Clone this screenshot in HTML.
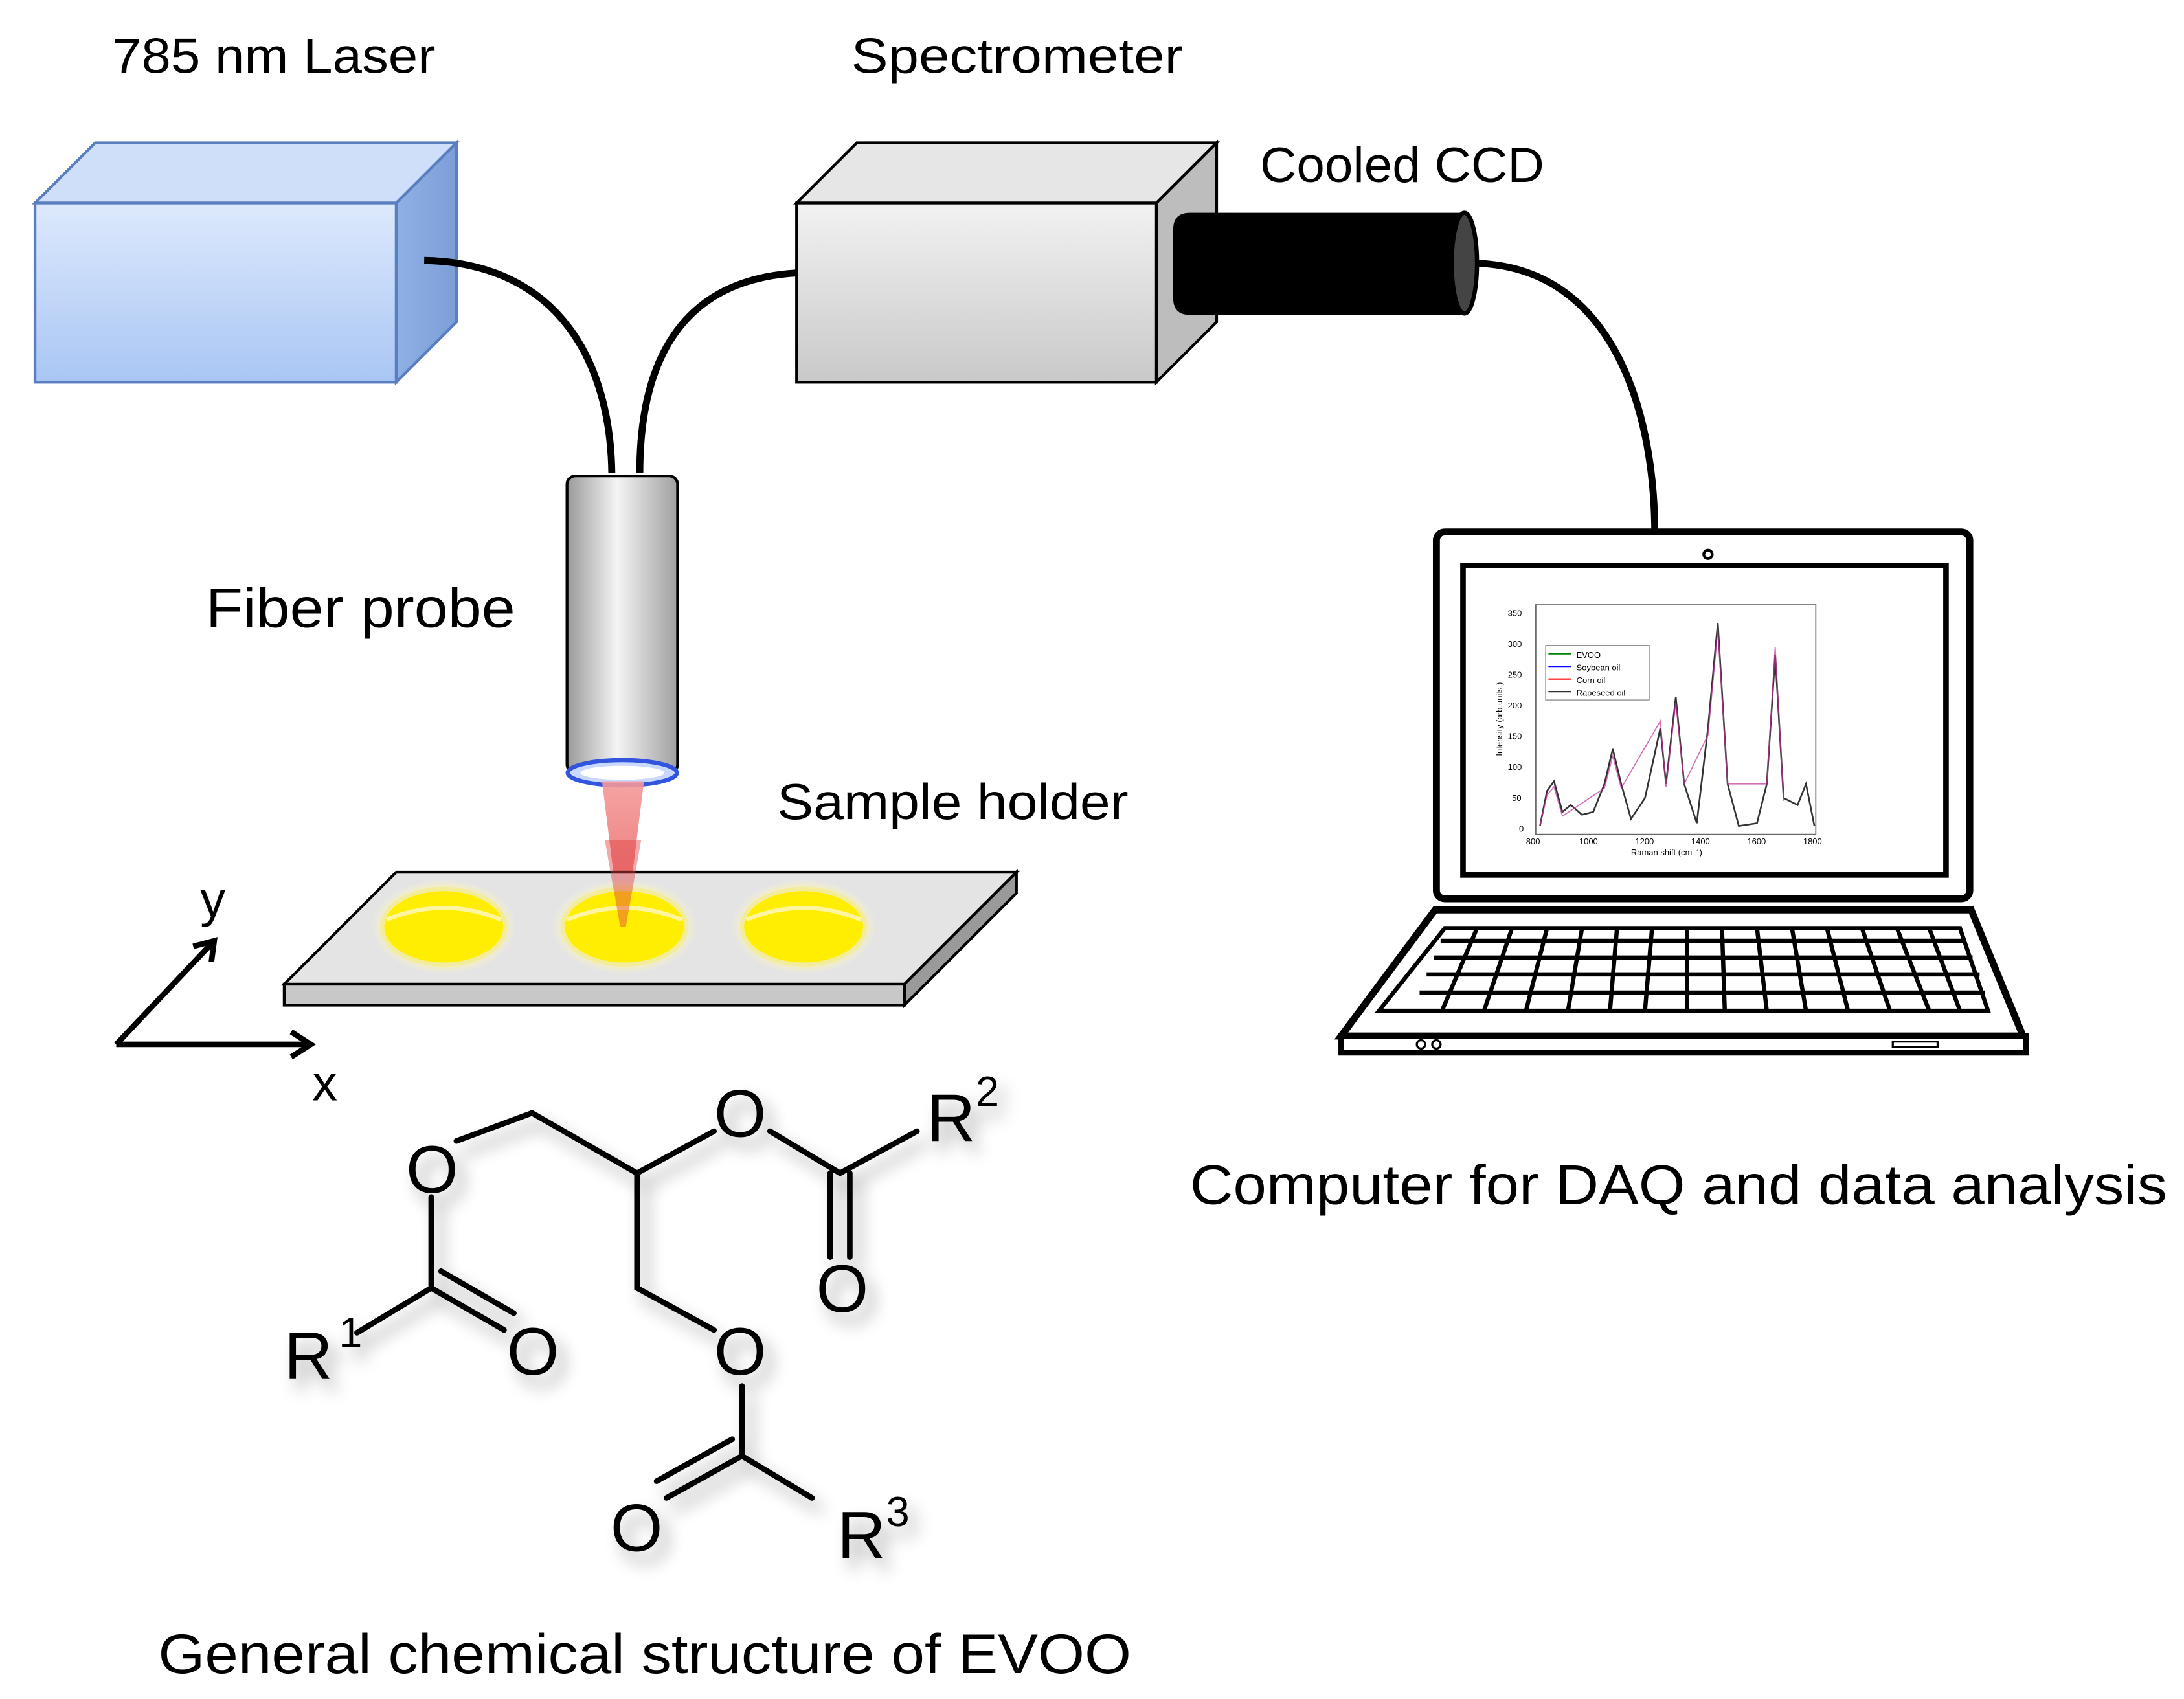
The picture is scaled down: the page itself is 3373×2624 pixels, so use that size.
<!DOCTYPE html>
<html><head><meta charset="utf-8"><style>
html,body{margin:0;padding:0;background:#fff;}
svg{display:block;}
text{font-family:"Liberation Sans",sans-serif;fill:#000;}
</style></head><body>
<svg width="3373" height="2624" viewBox="0 0 1560 1213.6" xmlns="http://www.w3.org/2000/svg">
<defs>
<linearGradient id="blue" x1="0" y1="0" x2="0" y2="1"><stop offset="0" stop-color="#dde9fc"/><stop offset="1" stop-color="#a9c6f4"/></linearGradient>
<linearGradient id="blueS" x1="0" y1="0" x2="1" y2="0"><stop offset="0" stop-color="#8fb0e4"/><stop offset="1" stop-color="#7d9fd8"/></linearGradient>
<linearGradient id="grey" x1="0" y1="0" x2="0" y2="1"><stop offset="0" stop-color="#f2f2f2"/><stop offset="1" stop-color="#c9c9c9"/></linearGradient>
<linearGradient id="probe" x1="0" y1="0" x2="1" y2="0"><stop offset="0" stop-color="#9a9a9a"/><stop offset="0.45" stop-color="#f4f4f4"/><stop offset="1" stop-color="#a0a0a0"/></linearGradient>
<linearGradient id="beam" x1="0" y1="0" x2="0" y2="1"><stop offset="0" stop-color="#f59a9a" stop-opacity="0.9"/><stop offset="1" stop-color="#e04040" stop-opacity="0.7"/></linearGradient>
<radialGradient id="glow"><stop offset="0.7" stop-color="#fff27a"/><stop offset="1" stop-color="#fffbd0" stop-opacity="0"/></radialGradient>
<filter id="sh" x="-20%" y="-20%" width="140%" height="140%"><feGaussianBlur in="SourceAlpha" stdDeviation="6"/><feOffset dx="6" dy="8"/><feComponentTransfer><feFuncA type="linear" slope="0.35"/></feComponentTransfer><feMerge><feMergeNode/><feMergeNode in="SourceGraphic"/></feMerge></filter>
</defs>

<!-- labels -->
<text x="80" y="52" font-size="35" textLength="231" lengthAdjust="spacingAndGlyphs">785 nm Laser</text>
<text x="608" y="52" font-size="35" textLength="237" lengthAdjust="spacingAndGlyphs">Spectrometer</text>
<text x="900" y="130" font-size="35" textLength="203" lengthAdjust="spacingAndGlyphs">Cooled CCD</text>
<text x="147" y="448" font-size="40" textLength="221" lengthAdjust="spacingAndGlyphs">Fiber probe</text>
<text x="555" y="585" font-size="36" textLength="251" lengthAdjust="spacingAndGlyphs">Sample holder</text>
<text x="850" y="860" font-size="40" textLength="698" lengthAdjust="spacingAndGlyphs">Computer for DAQ and data analysis</text>
<text x="113" y="1195" font-size="40" textLength="695" lengthAdjust="spacingAndGlyphs">General chemical structure of EVOO</text>

<!-- laser box -->
<polygon points="25,145 68,102 326,102 283,145" fill="#cfdffa" stroke="#5a7fc0" stroke-width="2"/>
<polygon points="283,145 326,102 326,230 283,273" fill="url(#blueS)" stroke="#5a7fc0" stroke-width="2"/>
<rect x="25" y="145" width="258" height="128" fill="url(#blue)" stroke="#5a7fc0" stroke-width="2"/>

<!-- spectrometer -->
<polygon points="569,145 612,102 869,102 826,145" fill="#e6e6e6" stroke="#000" stroke-width="2"/>
<polygon points="826,145 869,102 869,230 826,273" fill="#bdbdbd" stroke="#000" stroke-width="2"/>
<rect x="569" y="145" width="257" height="128" fill="url(#grey)" stroke="#000" stroke-width="2"/>

<!-- cables -->
<g fill="none" stroke="#000" stroke-width="5">
<path d="M303,186 C400,188 436,260 437,338"/>
<path d="M569,195 C485,200 457,260 457,338"/>
<path d="M1050,188 C1150,188 1182,290 1182,382"/>
</g>

<!-- CCD -->
<path d="M850,152 H1045 V225 H850 Q838,225 838,213 V164 Q838,152 850,152 Z" fill="#000"/>
<ellipse cx="1046" cy="188" rx="9" ry="36" fill="#444" stroke="#000" stroke-width="3"/>

<!-- probe -->
<rect x="405" y="340" width="79" height="212" fill="url(#probe)" stroke="#000" stroke-width="2" rx="6"/>
<ellipse cx="444.5" cy="552" rx="39" ry="9" fill="#c8d8ff" stroke="#3355dd" stroke-width="3"/>
<ellipse cx="444.5" cy="552" rx="30" ry="5" fill="#fff"/>
<polygon points="430,558 460,558 447,662 443,662" fill="url(#beam)"/>

<!-- sample holder -->
<polygon points="203,703 283,623 726,623 646,703" fill="#e4e4e4" stroke="#000" stroke-width="2"/>
<polygon points="646,703 726,623 726,638 646,718" fill="#9a9a9a" stroke="#000" stroke-width="2"/>
<rect x="203" y="703" width="443" height="15" fill="#c8c8c8" stroke="#000" stroke-width="2"/>
<g>
<ellipse cx="317" cy="662" rx="52" ry="34" fill="url(#glow)"/>
<ellipse cx="317" cy="662" rx="44" ry="27" fill="#ffee00" stroke="#f3ec9a" stroke-width="3"/>
<path d="M276,657 Q317,640 358,657" fill="none" stroke="#fff5a0" stroke-width="3"/>
<ellipse cx="446" cy="662" rx="52" ry="34" fill="url(#glow)"/>
<ellipse cx="446" cy="662" rx="44" ry="27" fill="#ffee00" stroke="#f3ec9a" stroke-width="3"/>
<path d="M405,657 Q446,640 487,657" fill="none" stroke="#fff5a0" stroke-width="3"/>
<ellipse cx="574" cy="662" rx="52" ry="34" fill="url(#glow)"/>
<ellipse cx="574" cy="662" rx="44" ry="27" fill="#ffee00" stroke="#f3ec9a" stroke-width="3"/>
<path d="M533,657 Q574,640 615,657" fill="none" stroke="#fff5a0" stroke-width="3"/>
</g>
<polygon points="432,600 458,600 447,662 443,662" fill="#e04040" opacity="0.45"/>

<!-- axes -->
<g stroke="#000" stroke-width="4" fill="none">
<path d="M83,746 H222"/><path d="M208,737 L222,746 L208,755"/>
<path d="M83,746 L153,672"/><path d="M138,676 L153,672 L151,687"/>
</g>
<text x="143" y="655" font-size="36">y</text>
<text x="223" y="786" font-size="36">x</text>

<!-- chemical structure -->
<g filter="url(#sh)">
<g stroke="#000" stroke-width="4" fill="none" stroke-linecap="round">
<path d="M326,815 L380,795 L455,838 L510,808"/>
<path d="M550,808 L600,838 L655,808"/>
<path d="M593,838 V898 M607,838 V898"/>
<path d="M455,838 V920 L510,950"/>
<path d="M530,990 V1040 L580,1070"/>
<path d="M530,1040 L476,1070 M523,1028 L469,1058"/>
<path d="M308,855 V920 L255,952"/>
<path d="M308,920 L360,950 M315,908 L367,938"/>
</g>
<g font-size="48">
<text x="290" y="852">O</text>
<text x="510" y="812">O</text>
<text x="662" y="815">R</text><text x="697" y="790" font-size="30">2</text>
<text x="583" y="937">O</text>
<text x="510" y="982">O</text>
<text x="203" y="985">R</text><text x="242" y="962" font-size="30">1</text>
<text x="362" y="982">O</text>
<text x="436" y="1108">O</text>
<text x="598" y="1113">R</text><text x="633" y="1090" font-size="30">3</text>
</g>
</g>

<!-- laptop -->
<rect x="1026" y="380" width="381" height="262" rx="6" fill="#fff" stroke="#000" stroke-width="5"/>
<rect x="1045" y="404" width="345" height="221" fill="#fff" stroke="#000" stroke-width="4"/>
<circle cx="1220" cy="396" r="3" fill="none" stroke="#000" stroke-width="2"/>
<polygon points="1025,650 1408,650 1445,740 958,740" fill="#fff" stroke="#000" stroke-width="5"/>
<path d="M958,740 H1447 V752 H958 Z" fill="#fff" stroke="#000" stroke-width="4"/>
<g stroke="#000" stroke-width="3" fill="none">
<polygon points="1032,663 1400,663 1420,722 985,722"/>
<path d="M1029,672 H1404 M1024,684 H1409 M1019,696 H1414 M1014,709 H1418"/>
<path d="M1055,663 L1030,722 M1080,663 L1060,722 M1105,663 L1090,722 M1130,663 L1120,722 M1155,663 L1150,722 M1180,663 L1175,722 M1205,663 L1205,722 M1230,663 L1232,722 M1255,663 L1262,722 M1280,663 L1290,722 M1305,663 L1320,722 M1330,663 L1350,722 M1355,663 L1378,722 M1378,663 L1400,722"/>
</g>
<circle cx="1015" cy="746" r="3" fill="none" stroke="#000" stroke-width="1.5"/>
<circle cx="1026" cy="746" r="3" fill="none" stroke="#000" stroke-width="1.5"/>
<rect x="1352" y="744" width="32" height="4" fill="none" stroke="#000" stroke-width="1.5"/>

<!-- chart -->
<g font-size="6">
<rect x="1097" y="432" width="200" height="164" fill="none" stroke="#666" stroke-width="0.8"/>
<text x="1077" y="440">350</text><text x="1077" y="462">300</text><text x="1077" y="484">250</text><text x="1077" y="506">200</text><text x="1077" y="528">150</text><text x="1077" y="550">100</text><text x="1080" y="572">50</text><text x="1085" y="594">0</text>
<text x="1090" y="603">800</text><text x="1128" y="603">1000</text><text x="1168" y="603">1200</text><text x="1208" y="603">1400</text><text x="1248" y="603">1600</text><text x="1288" y="603">1800</text>
<text x="1165" y="611">Raman shift (cm⁻¹)</text>
<text x="1073" y="540" transform="rotate(-90 1073 540)">Intensity (arb.units.)</text>
<text x="1126" y="470">EVOO</text><text x="1126" y="479">Soybean oil</text><text x="1126" y="488">Corn oil</text><text x="1126" y="497">Rapeseed oil</text>
<path d="M1106,467 H1122" stroke="green"/><path d="M1106,476 H1122" stroke="blue"/><path d="M1106,485 H1122" stroke="red"/><path d="M1106,494 H1122" stroke="#333"/>
<rect x="1104" y="461" width="74" height="39" fill="none" stroke="#888" stroke-width="0.6"/>
<path d="M1100,590 L1105,565 L1110,558 L1116,580 L1122,575 L1130,582 L1138,580 L1146,560 L1152,535 L1158,560 L1165,585 L1175,570 L1186,520 L1190,560 L1197,498 L1203,560 L1212,588 L1220,520 L1227,445 L1234,560 L1242,590 L1255,588 L1262,560 L1268,468 L1274,570 L1284,575 L1290,560 L1296,590" fill="none" stroke="#333" stroke-width="1.2"/>
<path d="M1100,590 L1105,568 L1110,562 L1116,583 L1146,563 L1152,540 L1158,563 L1186,515 L1190,562 L1197,502 L1203,560 L1220,525 L1227,450 L1234,560 L1262,560 L1268,462 L1274,572" fill="none" stroke="#c0309a" stroke-width="0.8" opacity="0.7"/>
</g>
</svg>
</body></html>
